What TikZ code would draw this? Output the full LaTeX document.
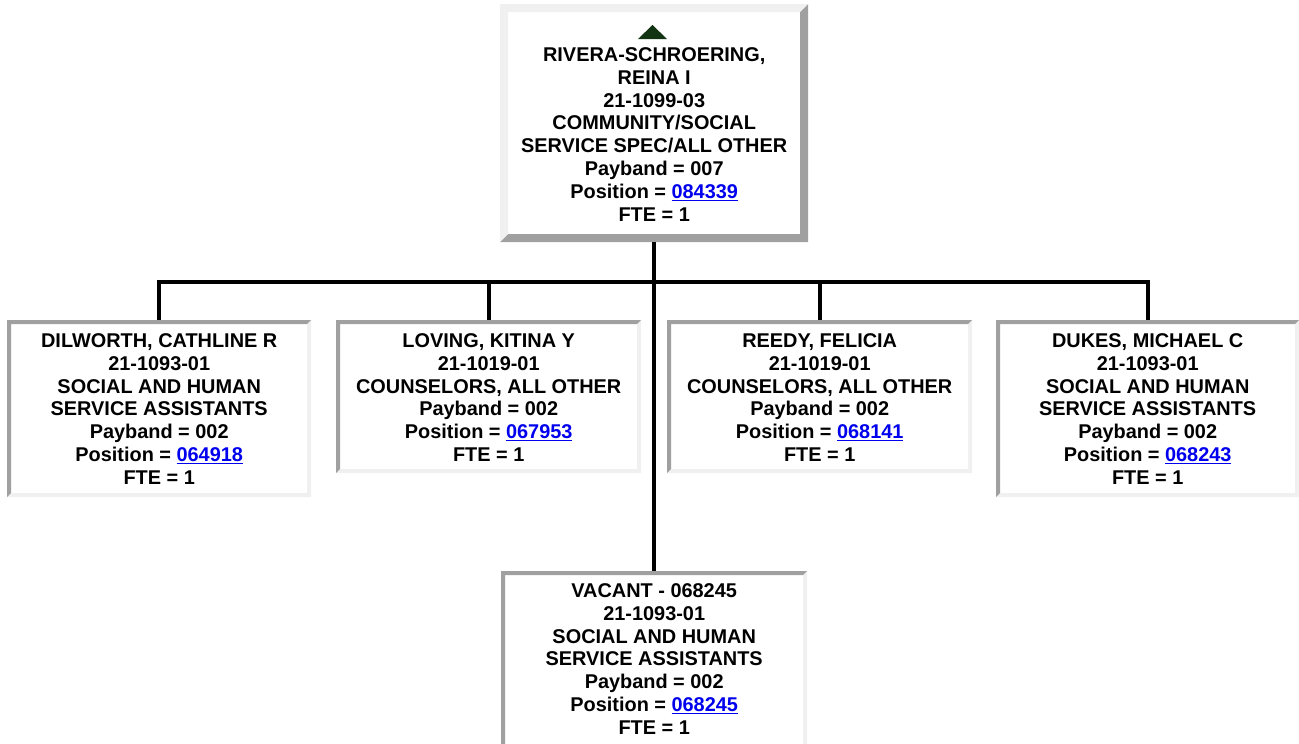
\documentclass[tikz,border=0pt]{standalone}
\usepackage{fontspec}
\setmainfont{Liberation Sans}
\definecolor{bdark}{RGB}{160,160,160}
\definecolor{blight}{RGB}{240,240,240}
\definecolor{linkblue}{RGB}{0,0,238}
\definecolor{trigreen}{RGB}{18,52,18}
\newcommand\lnk[1]{\textcolor{linkblue}{\underline{#1}}}
\newcommand\fst{\rule{0pt}{16pt}}
\tikzset{
  inset/.style={draw=none, fill=white, inner sep=0pt, anchor=north west,
    path picture={
      \fill[bdark] (path picture bounding box.north west) -- (path picture bounding box.north east)
        -- ([xshift=-#1,yshift=-#1]path picture bounding box.north east)
        -- ([xshift=#1,yshift=-#1]path picture bounding box.north west)
        -- ([xshift=#1,yshift=#1]path picture bounding box.south west)
        -- (path picture bounding box.south west) -- cycle;
      \fill[blight] (path picture bounding box.south east) -- (path picture bounding box.north east)
        -- ([xshift=-#1,yshift=-#1]path picture bounding box.north east)
        -- ([xshift=-#1,yshift=#1]path picture bounding box.south east)
        -- ([xshift=#1,yshift=#1]path picture bounding box.south west)
        -- (path picture bounding box.south west) -- cycle;
    }},
  outset/.style={draw=none, fill=white, inner sep=0pt, anchor=north west,
    path picture={
      \fill[blight] (path picture bounding box.north west) -- (path picture bounding box.north east)
        -- ([xshift=-#1,yshift=-#1]path picture bounding box.north east)
        -- ([xshift=#1,yshift=-#1]path picture bounding box.north west)
        -- ([xshift=#1,yshift=#1]path picture bounding box.south west)
        -- (path picture bounding box.south west) -- cycle;
      \fill[bdark] (path picture bounding box.south east) -- (path picture bounding box.north east)
        -- ([xshift=-#1,yshift=-#1]path picture bounding box.north east)
        -- ([xshift=-#1,yshift=#1]path picture bounding box.south east)
        -- ([xshift=#1,yshift=#1]path picture bounding box.south west)
        -- (path picture bounding box.south west) -- cycle;
    }},
  txt/.style={inner sep=0pt, anchor=north, align=center,
    font=\fontsize{19.9}{22.9}\selectfont\bfseries},
  conn/.style={draw=black, line width=4pt}
}
\begin{document}
\begin{tikzpicture}[x=1pt,y=-1pt]
\useasboundingbox (0,0) rectangle (1299,744);
% boxes
\node[outset=8pt, minimum width=308pt, minimum height=238pt] (top) at (500,4) {};
\node[inset=4pt, minimum width=304pt, minimum height=177pt] (dil) at (7,320) {};
\node[inset=4pt, minimum width=305pt, minimum height=153pt] (lov) at (336,320) {};
\node[inset=4pt, minimum width=305pt, minimum height=153pt] (ree) at (667,320) {};
\node[inset=4pt, minimum width=303pt, minimum height=177pt] (duk) at (996,320) {};
\node[inset=4pt, minimum width=306pt, minimum height=190pt] (vac) at (501,571) {};
% connectors
\coordinate (bus) at (654,282);
\draw[conn] (top.south) -- (vac.north);
\draw[conn] (dil.north) -- (dil.north |- bus) -- (duk.north |- bus) -- (duk.north);
\draw[conn] (lov.north) -- (lov.north |- bus);
\draw[conn] (ree.north) -- (ree.north |- bus);
% triangle
\fill[trigreen] (638,39) -- (667,39) -- (652.5,25) -- cycle;
% texts
\node[txt] (topT) at ([yshift=-41pt]top.north) {\fst RIVERA-SCHROERING,\\REINA I\\21-1099-03\\COMMUNITY/SOCIAL\\SERVICE SPEC/ALL OTHER\\Payband = 007\\Position = \lnk{084339}\\FTE = 1};
\node[txt] (dilT) at ([yshift=-11pt]dil.north) {\fst DILWORTH, CATHLINE R\\21-1093-01\\SOCIAL AND HUMAN\\SERVICE ASSISTANTS\\Payband = 002\\Position = \lnk{064918}\\FTE = 1};
\node[txt] (lovT) at ([yshift=-11pt]lov.north) {\fst LOVING, KITINA Y\\21-1019-01\\COUNSELORS, ALL OTHER\\Payband = 002\\Position = \lnk{067953}\\FTE = 1};
\node[txt] (reeT) at ([yshift=-11pt]ree.north) {\fst REEDY, FELICIA\\21-1019-01\\COUNSELORS, ALL OTHER\\Payband = 002\\Position = \lnk{068141}\\FTE = 1};
\node[txt] (dukT) at ([yshift=-11pt]duk.north) {\fst DUKES, MICHAEL C\\21-1093-01\\SOCIAL AND HUMAN\\SERVICE ASSISTANTS\\Payband = 002\\Position = \lnk{068243}\\FTE = 1};
\node[txt] (vacT) at ([yshift=-10pt]vac.north) {\fst VACANT - 068245\\21-1093-01\\SOCIAL AND HUMAN\\SERVICE ASSISTANTS\\Payband = 002\\Position = \lnk{068245}\\FTE = 1};
\end{tikzpicture}
\end{document}
